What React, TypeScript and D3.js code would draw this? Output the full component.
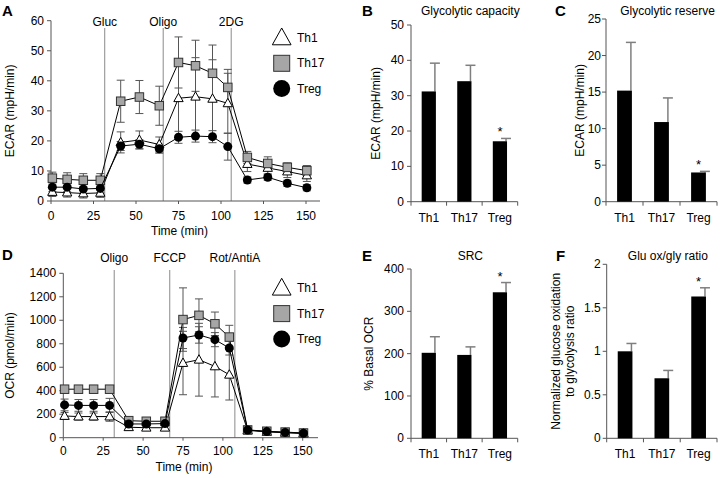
import React from "react";
import * as d3 from "d3";

const FONT = "'Liberation Sans', Arial, Helvetica, sans-serif";

// ---------- Time course data ----------
const times = [0.8, 9.5, 19, 29, 41, 52, 63.7, 75, 85, 95, 104, 115.5, 127.5, 139, 150.5];
const seriesNames = ["Th1", "Th17", "Treg"];

// Panel A: ECAR (mpH/min)
const ecarTh1 = [3.0, 2.8, 2.5, 2.7, 19.5, 20.3, 18.8, 34.2, 34.7, 34.0, 32.5, 12.3, 11.0, 9.8, 8.5];
const ecarTh17 = [7.6, 7.2, 6.9, 6.9, 33.2, 34.6, 31.7, 46.1, 45.0, 42.5, 37.8, 14.5, 12.5, 11.2, 10.1];
const ecarTreg = [4.6, 4.6, 4.0, 4.2, 18.3, 18.9, 17.4, 21.2, 21.6, 21.4, 18.1, 7.0, 7.9, 5.9, 4.4];
const ecarTh1Err = [1.5, 1.5, 1.5, 1.5, 3.5, 3, 2.5, 13, 13, 13, 10, 2.5, 2, 2, 2];
const ecarTh17Err = [2, 2.2, 2.2, 2.2, 7, 5.5, 6.5, 8.5, 8.5, 9.4, 6, 2, 2.2, 1.5, 1.7];
const ecarTregErr = [1.5, 1.5, 1.5, 1.5, 1.5, 1.5, 1.5, 2, 2, 2, 4.5, 1, 1, 1, 1];
const ecarInjections = [
  { t: 31.6, label: "Gluc" },
  { t: 66, label: "Oligo" },
  { t: 106, label: "2DG" },
];
const ecarTicks = [0, 10, 20, 30, 40, 50, 60];

// Panel D: OCR (pmol/min)
const ocrTh1 = [185, 180, 180, 180, 89, 85, 85, 636, 664, 607, 536, 62, 50, 42, 36];
const ocrTh17 = [413, 413, 413, 413, 145, 140, 140, 1006, 1042, 970, 857, 66, 55, 48, 40];
const ocrTreg = [279, 275, 275, 275, 117, 117, 120, 849, 875, 835, 764, 66, 52, 45, 38];
const ocrTh1Err = [30, 30, 30, 40, 15, 15, 15, 270, 310, 260, 215, 10, 10, 10, 10];
const ocrTh17Err = [30, 30, 30, 30, 20, 20, 20, 270, 140, 100, 100, 10, 10, 10, 10];
const ocrTregErr = [50, 50, 50, 60, 20, 20, 20, 90, 70, 60, 60, 10, 10, 10, 10];
const ocrInjections = [
  { t: 31.9, label: "Oligo" },
  { t: 66.7, label: "FCCP" },
  { t: 107.5, label: "Rot/AntiA" },
];
const ocrTicks = [0, 200, 400, 600, 800, 1000, 1200, 1400];
const timeTicks = [0, 25, 50, 75, 100, 125, 150];

// ---------- Bar data ----------
const categories = ["Th1", "Th17", "Treg"];
const capacity = [31.2, 34.1, 17.1];
const capacityErr = [8.0, 4.5, 0.8];
const capacityTicks = [0, 10, 20, 30, 40, 50];
const reserve = [15.2, 10.9, 4.0];
const reserveErr = [6.6, 3.3, 0.15];
const reserveTicks = [0, 5, 10, 15, 20, 25];
const src = [202, 197, 345];
const srcErr = [38, 19, 23];
const srcTicks = [0, 100, 200, 300, 400];
const ratio = [1.0, 0.69, 1.63];
const ratioErr = [0.09, 0.09, 0.1];
const ratioTicks = [0, 0.5, 1, 1.5, 2];
const stars = [false, false, true];

type Shape = "tri" | "sq" | "circ";
const shapes: Shape[] = ["tri", "sq", "circ"];

function Marker({ shape, x, y, s }: { shape: Shape; x: number; y: number; s: number }) {
  if (shape === "tri") {
    const h = s * 0.95;
    return (
      <path
        d={`M${x},${y - h * 0.62} L${x + s * 0.55},${y + h * 0.42} L${x - s * 0.55},${y + h * 0.42} Z`}
        fill="#fff"
        stroke="#000"
        strokeWidth={1}
      />
    );
  }
  if (shape === "sq") {
    return <rect x={x - s / 2} y={y - s / 2} width={s} height={s} fill="#a6a6a6" stroke="#333" strokeWidth={1} />;
  }
  return <circle cx={x} cy={y} r={s / 2} fill="#000" />;
}

function TimeCourse(props: {
  x0: number; x1: number; axisEnd: number; y0: number; y1: number; yMax: number;
  ticks: number[]; series: number[][]; errs: number[][];
  injections: { t: number; label: string }[]; lineTop: number; labelY: number;
  ylabel: string; ylabelX: number; xTickY: number; titleY: number; letter: string; letterY: number;
  legendY: number;
}) {
  const x = d3.scaleLinear().domain([0, 150]).range([props.x0, props.x1]);
  const y = d3.scaleLinear().domain([0, props.yMax]).range([props.y0, props.y1]);
  const line = d3.line<number>().x((_, i) => x(times[i])).y((d) => y(d));
  const order = [0, 1, 2];
  return (
    <g fontFamily={FONT}>
      <text x={2} y={props.letterY} fontSize={15} fontWeight="bold">{props.letter}</text>
      {props.injections.map((inj) => (
        <g key={inj.label}>
          <line x1={x(inj.t)} x2={x(inj.t)} y1={props.lineTop} y2={props.y0} stroke="#8a8a8a" strokeWidth={1} />
          <text x={x(inj.t)} y={props.labelY} fontSize={12} textAnchor="middle">{inj.label}</text>
        </g>
      ))}
      <line x1={props.x0} x2={props.x0} y1={props.y1} y2={props.y0} stroke="#555" />
      <line x1={props.x0} x2={props.axisEnd} y1={props.y0} y2={props.y0} stroke="#555" />
      {props.ticks.map((t) => (
        <g key={t}>
          <line x1={props.x0 - 4} x2={props.x0} y1={y(t)} y2={y(t)} stroke="#555" />
          <text x={props.x0 - 7} y={y(t) + 4} fontSize={12} textAnchor="end">{t}</text>
        </g>
      ))}
      {timeTicks.map((t) => (
        <g key={t}>
          <line x1={x(t)} x2={x(t)} y1={props.y0} y2={props.y0 + 3} stroke="#555" />
          <text x={x(t)} y={props.xTickY} fontSize={12} textAnchor="middle">{t}</text>
        </g>
      ))}
      <text x={(props.x0 + props.x1) / 2 + 1} y={props.titleY} fontSize={12} textAnchor="middle">Time (min)</text>
      <text
        transform={`translate(${props.ylabelX},${(props.y0 + props.y1) / 2}) rotate(-90)`}
        fontSize={12}
        textAnchor="middle"
      >
        {props.ylabel}
      </text>
      {order.map((si) =>
        props.series[si].map((v, i) => {
          const e = props.errs[si][i];
          const cx = x(times[i]);
          return (
            <g key={`e${si}-${i}`} stroke="#555" strokeWidth={1}>
              <line x1={cx} x2={cx} y1={y(v - e)} y2={y(v + e)} />
              <line x1={cx - 4} x2={cx + 4} y1={y(v + e)} y2={y(v + e)} />
              <line x1={cx - 4} x2={cx + 4} y1={y(v - e)} y2={y(v - e)} />
            </g>
          );
        })
      )}
      {order.map((si) => (
        <g key={`s${si}`}>
          <path d={line(props.series[si]) || ""} fill="none" stroke="#000" strokeWidth={1} />
          {props.series[si].map((v, i) => (
            <Marker key={i} shape={shapes[si]} x={x(times[i])} y={y(v)} s={si === 2 ? 9 : 8.5} />
          ))}
        </g>
      ))}
      {seriesNames.map((n, i) => (
        <g key={n}>
          <Marker shape={shapes[i]} x={281.7} y={props.legendY + i * 25.3} s={i === 1 ? 16 : 17} />
          <text x={297} y={props.legendY + i * 25.3 + 4} fontSize={12}>{n}</text>
        </g>
      ))}
    </g>
  );
}

function BarPanel(props: {
  x0: number; x1: number; y0: number; y1: number; yMax: number; ticks: number[];
  values: number[]; errs: number[]; title: string; titleY: number; letter: string;
  letterX: number; ylabel: string[]; ylabelX: number; tickGap: number;
}) {
  const xb = d3.scaleBand().domain(categories).range([props.x0, props.x1]).paddingInner(0.6).paddingOuter(0.3);
  const y = d3.scaleLinear().domain([0, props.yMax]).range([props.y0, props.y1]);
  const step = xb.step();
  const bounds = [0, 1, 2, 3].map((i) => props.x0 + i * step);
  return (
    <g fontFamily={FONT}>
      <text x={props.letterX} y={props.titleY + 1} fontSize={15} fontWeight="bold">{props.letter}</text>
      <text x={(props.x0 + props.x1) / 2 + 6} y={props.titleY} fontSize={12} textAnchor="middle">{props.title}</text>
      <line x1={props.x0} x2={props.x0} y1={props.y1} y2={props.y0} stroke="#555" />
      <line x1={props.x0} x2={props.x1} y1={props.y0} y2={props.y0} stroke="#555" />
      {props.ticks.map((t) => (
        <g key={t}>
          <line x1={props.x0 - 4} x2={props.x0} y1={y(t)} y2={y(t)} stroke="#555" />
          <text x={props.x0 - props.tickGap} y={y(t) + 4} fontSize={12} textAnchor="end">{t}</text>
        </g>
      ))}
      {bounds.map((b, i) => (
        <line key={i} x1={b} x2={b} y1={props.y0} y2={props.y0 + 4} stroke="#555" />
      ))}
      {categories.map((c, i) => {
        const bx = xb(c) as number;
        const bw = xb.bandwidth();
        const cx = bx + bw / 2;
        const ex = bx + bw - 1;
        const top = y(props.values[i] + props.errs[i]);
        return (
          <g key={c}>
            <line x1={ex} x2={ex} y1={y(props.values[i])} y2={top} stroke="#7f7f7f" strokeWidth={1.5} />
            <line x1={ex - 5} x2={ex + 5} y1={top} y2={top} stroke="#7f7f7f" strokeWidth={1.5} />
            <rect x={bx} y={y(props.values[i])} width={bw} height={props.y0 - y(props.values[i])} fill="#000" />
            {stars[i] && (
              <text x={cx} y={top - 2} fontSize={13} textAnchor="middle">*</text>
            )}
            <text x={cx} y={props.y0 + 20} fontSize={12} textAnchor="middle">{c}</text>
          </g>
        );
      })}
      {props.ylabel.map((l, i) => (
        <text
          key={i}
          transform={`translate(${props.ylabelX + i * 14},${(props.y0 + props.y1) / 2}) rotate(-90)`}
          fontSize={12}
          textAnchor="middle"
        >
          {l}
        </text>
      ))}
    </g>
  );
}

export default function App() {
  return (
    <svg width={728} height={478} style={{ position: "absolute", left: 0, top: 0, background: "#fff" }}>
      <rect width={728} height={478} fill="#fff" />
      <TimeCourse
        x0={51} x1={306} axisEnd={320} y0={201} y1={20.7} yMax={60} ticks={ecarTicks}
        series={[ecarTh1, ecarTh17, ecarTreg]} errs={[ecarTh1Err, ecarTh17Err, ecarTregErr]}
        injections={ecarInjections} lineTop={28} labelY={26}
        ylabel="ECAR (mpH/min)" ylabelX={14} xTickY={220} titleY={235} letter="A" letterY={16} legendY={38}
      />
      <TimeCourse
        x0={63.3} x1={302.7} axisEnd={318} y0={437.7} y1={273.3} yMax={1400} ticks={ocrTicks}
        series={[ocrTh1, ocrTh17, ocrTreg]} errs={[ocrTh1Err, ocrTh17Err, ocrTregErr]}
        injections={ocrInjections} lineTop={270} labelY={262}
        ylabel="OCR (pmol/min)" ylabelX={14} xTickY={455} titleY={471} letter="D" letterY={260} legendY={288.3}
      />
      <BarPanel
        x0={411} x1={517.7} y0={201.7} y1={25} yMax={50} ticks={capacityTicks}
        values={capacity} errs={capacityErr} title="Glycolytic capacity" titleY={15}
        letter="B" letterX={362} ylabel={["ECAR (mpH/min)"]} ylabelX={380} tickGap={7}
      />
      <BarPanel
        x0={606} x1={717} y0={201.7} y1={19} yMax={25} ticks={reserveTicks}
        values={reserve} errs={reserveErr} title="Glycolytic reserve" titleY={15}
        letter="C" letterX={555} ylabel={["ECAR (mpH/min)"]} ylabelX={584} tickGap={5}
      />
      <BarPanel
        x0={411} x1={517.7} y0={438.3} y1={269} yMax={400} ticks={srcTicks}
        values={src} errs={srcErr} title="SRC" titleY={260}
        letter="E" letterX={362} ylabel={["% Basal OCR"]} ylabelX={373} tickGap={7}
      />
      <BarPanel
        x0={606.7} x1={717} y0={438.3} y1={264.3} yMax={2} ticks={ratioTicks}
        values={ratio} errs={ratioErr} title="Glu ox/gly ratio" titleY={260}
        letter="F" letterX={556} ylabel={["Normalized glucose oxidation", "to glycolysis ratio"]} ylabelX={560} tickGap={6}
      />
    </svg>
  );
}
